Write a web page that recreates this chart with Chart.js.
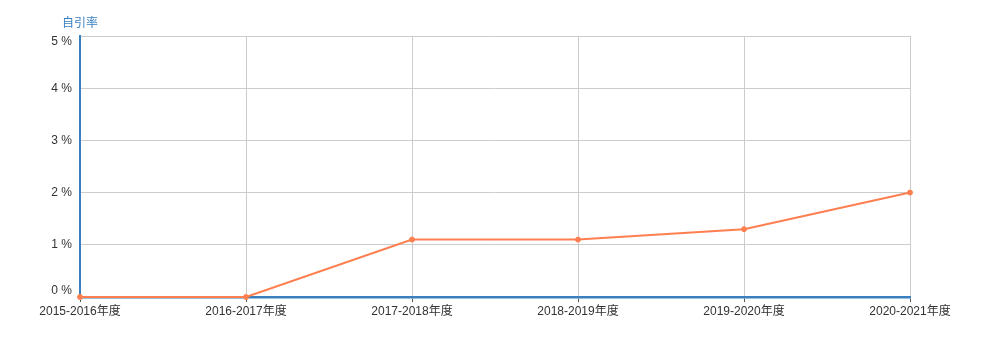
<!DOCTYPE html>
<html>
<head>
  <title>自引率</title>
  <script src="https://cdn.jsdelivr.net/npm/chart.js@4.4.0/dist/chart.umd.min.js"></script>
  <style>
    html, body { margin: 0; padding: 0; background: #fff; }
    #wrap { width: 989px; height: 355px; }
  </style>
</head>
<body>
  <div id="wrap"><canvas id="selfCiteChart" width="989" height="355"></canvas></div>
  <script>
    // data
    var years = ['2015-2016年度', '2016-2017年度', '2017-2018年度', '2018-2019年度', '2019-2020年度', '2020-2021年度'];
    var selfCiteRate = [0, 0, 1.1, 1.1, 1.3, 2.0];
    var yTicks = [0, 1, 2, 3, 4, 5];

    var fontFamily = '"Liberation Sans", Arial, "Noto Sans CJK SC", sans-serif';
    var axisBlue = '#3a80c0';

    // y labels drawn by hand so the edge labels stay inside the plot, like the original
    var yLabelPlugin = {
      id: 'yLabels',
      afterDraw: function(chart) {
        var ctx = chart.ctx;
        var y = chart.scales.y;
        var area = chart.chartArea;
        ctx.save();
        ctx.font = '12px ' + fontFamily;
        ctx.fillStyle = '#333';
        ctx.textAlign = 'right';
        ctx.textBaseline = 'middle';
        yTicks.forEach(function(v) {
          var py = y.getPixelForValue(v);
          py = Math.max(area.top + 6, Math.min(area.bottom - 6, py));
          ctx.fillText(v + ' %', area.left - 8, py);
        });
        ctx.fillStyle = axisBlue;
        ctx.textAlign = 'left';
        ctx.fillText('自引率', 62, 24);
        ctx.restore();
      }
    };

    var ctx = document.getElementById('selfCiteChart').getContext('2d');
    var chart = new Chart(ctx, {
      type: 'line',
      data: {
        labels: years,
        datasets: [{
          label: '自引率',
          data: selfCiteRate,
          borderColor: '#ff7f50',
          backgroundColor: '#ff7f50',
          borderWidth: 2,
          pointRadius: 2.5,
          pointBorderWidth: 1,
          pointHoverRadius: 4,
          tension: 0,
          clip: false
        }]
      },
      options: {
        responsive: false,
        animation: false,
        layout: { padding: { left: 0, right: 79, top: 36, bottom: 0 } },
        plugins: {
          legend: { display: false },
          tooltip: { enabled: false }
        },
        scales: {
          x: {
            grid: { color: '#cccccc', tickLength: 5, tickColor: '#555' },
            border: { color: axisBlue, width: 2.5 },
            ticks: {
              color: '#333',
              font: { size: 12, family: fontFamily },
              padding: 2,
              maxRotation: 0,
              autoSkip: false
            },
            afterFit: function(scale) { scale.height = 58; }
          },
          y: {
            min: 0,
            max: 5,
            ticks: { display: false, stepSize: 1 },
            grid: { color: '#cccccc', drawTicks: false },
            border: { color: axisBlue, width: 2 },
            afterFit: function(scale) { scale.width = 80; }
          }
        }
      },
      plugins: [yLabelPlugin]
    });
  </script>
</body>
</html>
